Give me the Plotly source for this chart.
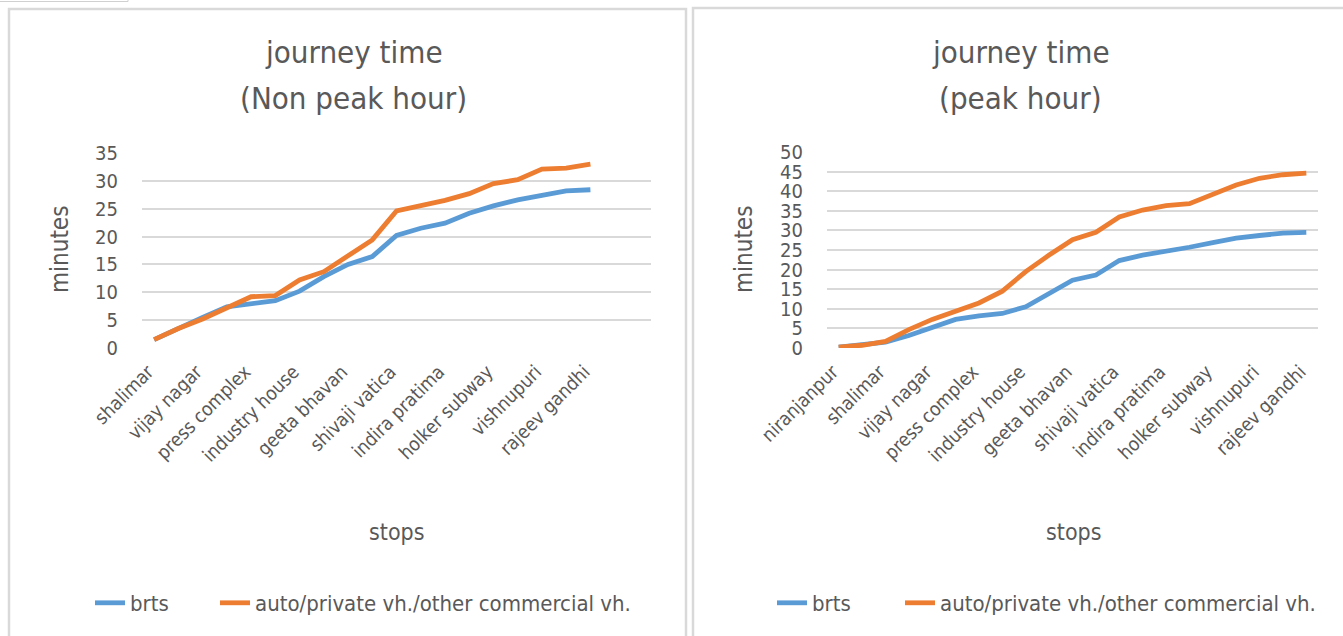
import plotly.graph_objects as go

# ---------------- data ----------------
left_labels = ["shalimar", "vijay nagar", "press complex", "industry house", "geeta bhavan",
               "shivaji vatica", "indira pratima", "holker subway", "vishnupuri", "rajeev gandhi"]
left_brts = [1.5, 3.6, 5.5, 7.4, 8.0, 8.5, 10.2, 12.8, 15.0, 16.4, 20.2, 21.5, 22.4, 24.2,
             25.5, 26.6, 27.4, 28.2, 28.4]
left_auto = [1.5, 3.5, 5.2, 7.1, 9.2, 9.4, 12.2, 13.7, 16.5, 19.4, 24.6, 25.5, 26.5, 27.7,
             29.5, 30.2, 32.1, 32.3, 33.0]

right_labels = ["niranjanpur", "shalimar", "vijay nagar", "press complex", "industry house",
                "geeta bhavan", "shivaji vatica", "indira pratima", "holker subway",
                "vishnupuri", "rajeev gandhi"]
right_brts = [0.2, 0.7, 1.5, 3.2, 5.4, 7.3, 8.2, 8.8, 10.5, 13.9, 17.3, 18.6, 22.3, 23.7,
              24.6, 25.7, 26.9, 28.0, 28.7, 29.3, 29.5]
right_auto = [0.2, 0.7, 1.7, 4.7, 7.3, 9.5, 11.5, 14.5, 19.5, 23.7, 27.6, 29.5, 33.4, 35.2,
              36.3, 36.8, 39.3, 41.6, 43.3, 44.2, 44.6]

series_names = ["brts", "auto/private vh./other commercial vh."]
left_title = ["journey time", "(Non peak hour)"]
right_title = ["journey time", "(peak hour)"]
y_title = "minutes"
x_title = "stops"
left_ticks = [0, 5, 10, 15, 20, 25, 30, 35]
right_ticks = [0, 5, 10, 15, 20, 25, 30, 35, 40, 45, 50]

# ---------------- style ----------------
W, H = 1343, 636
FONT = "DejaVu Sans Condensed, DejaVu Sans, sans-serif"
TXT = "#595959"
GRID = "#D9D9D9"
BLUE = "#5B9BD5"
ORANGE = "#ED7D31"
n_slots = 21  # category slots on each x axis


def px(x):
    return x / W


def py(y):
    return 1 - y / H


fig = go.Figure()

fig.add_trace(go.Scatter(x=list(range(len(left_brts))), y=left_brts, name=series_names[0],
                         mode="lines", line=dict(color=BLUE, width=4.8),
                         xaxis="x", yaxis="y", legend="legend"))
fig.add_trace(go.Scatter(x=list(range(len(left_auto))), y=left_auto, name=series_names[1],
                         mode="lines", line=dict(color=ORANGE, width=4.8),
                         xaxis="x", yaxis="y", legend="legend2"))
fig.add_trace(go.Scatter(x=list(range(len(right_brts))), y=right_brts, name=series_names[0],
                         mode="lines", line=dict(color=BLUE, width=4.8),
                         xaxis="x2", yaxis="y2", legend="legend3"))
fig.add_trace(go.Scatter(x=list(range(len(right_auto))), y=right_auto, name=series_names[1],
                         mode="lines", line=dict(color=ORANGE, width=4.8),
                         xaxis="x2", yaxis="y2", legend="legend4"))

xcommon = dict(range=[-0.5, n_slots - 0.5], showgrid=False, zeroline=False,
               showline=False, tickangle=-45, ticks="", ticklabelstandoff=8,
               ticklabelshift=-6,
               tickfont=dict(family=FONT, size=19, color=TXT), fixedrange=True)
ycommon = dict(showgrid=True, gridcolor=GRID, gridwidth=1.5, zeroline=False,
               showline=False, ticks="", ticklabelstandoff=23, fixedrange=True)


def leg(xpix):
    return dict(orientation="h", x=px(xpix), y=py(603), xanchor="left", yanchor="middle",
                font=dict(family=FONT, size=22, color=TXT), bgcolor="rgba(0,0,0,0)")


fig.update_layout(
    autosize=True,
    margin=dict(l=0, r=0, t=0, b=0, autoexpand=False),
    paper_bgcolor="white", plot_bgcolor="white",
    font=dict(family=FONT, color=TXT),
    xaxis=dict(xcommon, domain=[px(142), px(651)], anchor="y",
               tickmode="array", tickvals=list(range(0, 2 * len(left_labels), 2)),
               ticktext=left_labels),
    yaxis=dict(ycommon, domain=[py(348), py(153)], anchor="x",
               range=[0, 35], tickmode="array", tickvals=left_ticks,
               tickfont=dict(family=FONT, size=20, color=TXT)),
    xaxis2=dict(xcommon, domain=[px(827), px(1318)], anchor="y2",
                tickmode="array", tickvals=list(range(0, 2 * len(right_labels), 2)),
                ticktext=right_labels),
    yaxis2=dict(ycommon, domain=[py(348), py(152)], anchor="x2",
                range=[0, 50], tickmode="array", tickvals=right_ticks,
                tickfont=dict(family=FONT, size=20, color=TXT)),
    legend=leg(90),
    legend2=leg(215),
    legend3=leg(772),
    legend4=leg(900),
    showlegend=True,
)

# panel borders
fig.add_shape(type="rect", xref="paper", yref="paper", x0=px(9), x1=px(686), y0=py(640), y1=py(9),
              line=dict(color="#D9D9D9", width=2.5), fillcolor="rgba(0,0,0,0)", layer="below")
fig.add_shape(type="rect", xref="paper", yref="paper", x0=px(693), x1=px(1347), y0=py(640), y1=py(8),
              line=dict(color="#D9D9D9", width=2.5), fillcolor="rgba(0,0,0,0)", layer="below")
# small box edge at top-left
fig.add_shape(type="path", xref="paper", yref="paper",
              path=f"M {px(0)} {py(1.5)} L {px(128)} {py(1.5)} L {px(128)} {py(-2)}",
              line=dict(color="#D0D0D0", width=1))

# titles and axis titles
ann = []
for cx, lines in [(354, left_title), (1021, right_title)]:
    for cy, text in zip([52, 98], lines):
        ann.append(dict(text=text, x=px(cx), y=py(cy), xref="paper", yref="paper",
                        xanchor="center", yanchor="middle", showarrow=False,
                        font=dict(family=FONT, size=31, color=TXT)))
for cx in [60, 744]:
    ann.append(dict(text=y_title, x=px(cx), y=py(250), xref="paper", yref="paper",
                    xanchor="center", yanchor="middle", showarrow=False, textangle=-90,
                    font=dict(family=FONT, size=24, color=TXT)))
for cx in [396, 1073]:
    ann.append(dict(text=x_title, x=px(cx), y=py(532), xref="paper", yref="paper",
                    xanchor="center", yanchor="middle", showarrow=False,
                    font=dict(family=FONT, size=23, color=TXT)))
fig.update_layout(annotations=ann)

post = (
    "document.documentElement.style.margin='0';"
    "document.body.style.margin='0';"
    "document.documentElement.style.overflow='hidden';"
    "document.body.style.overflow='hidden';"
    "var gd=document.getElementById('{plot_id}');"
    "gd.style.width='100vw';gd.style.height='100vh';"
    "Plotly.Plots.resize(gd);"
)
fig.write_html("out.html", default_width="100vw", default_height="100vh",
               config={"responsive": True, "displayModeBar": False}, post_script=post)
